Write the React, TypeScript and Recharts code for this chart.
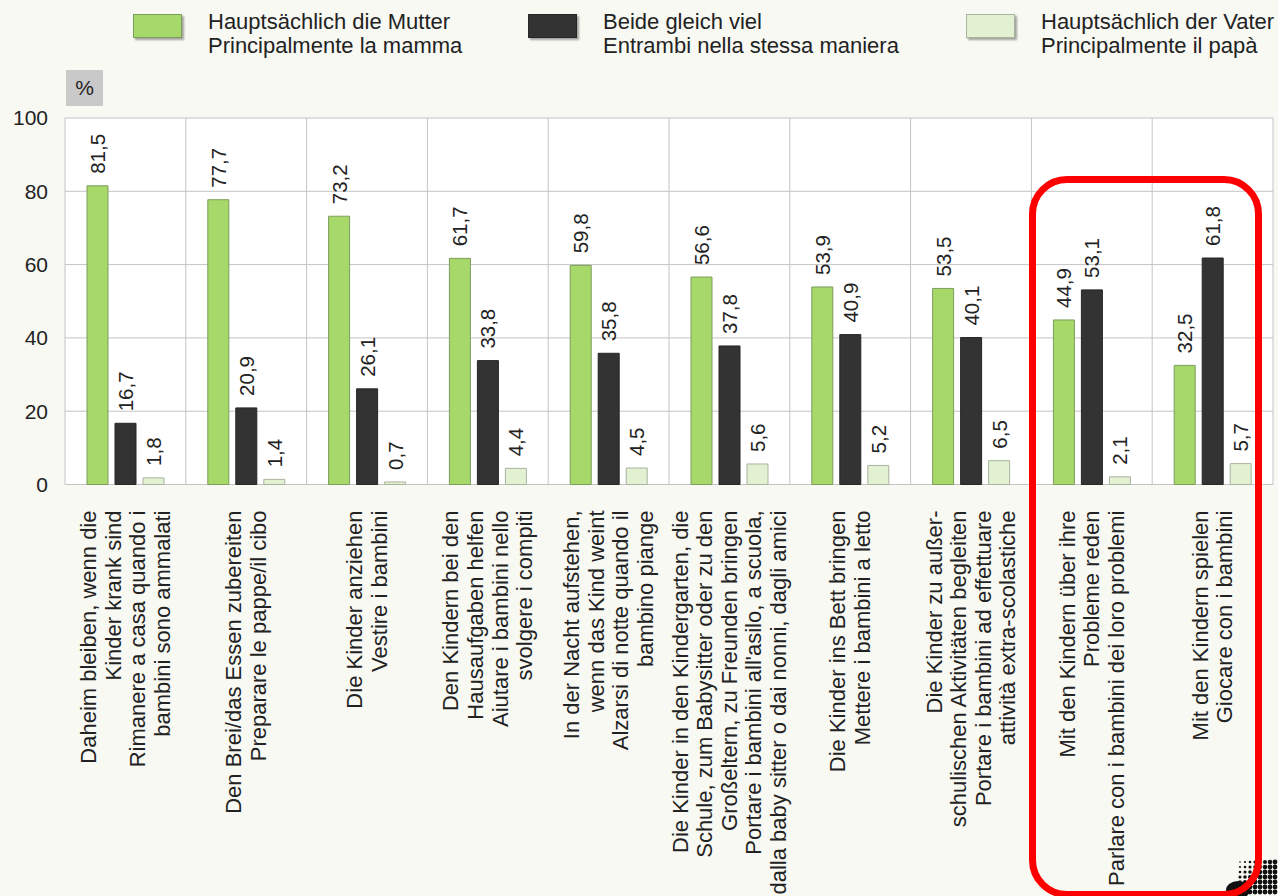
import React from 'react';
import { BarChart, Bar, XAxis, YAxis, CartesianGrid } from 'recharts';

const categoryLines: string[][] = [
  ['Daheim bleiben, wenn die', 'Kinder krank sind', 'Rimanere a casa quando i', 'bambini sono ammalati'],
  ['Den Brei/das Essen zubereiten', 'Preparare le pappe/il cibo'],
  ['Die Kinder anziehen', 'Vestire i bambini'],
  ['Den Kindern bei den', 'Hausaufgaben helfen', 'Aiutare i bambini nello', 'svolgere i compiti'],
  ['In der Nacht aufstehen,', 'wenn das Kind weint', 'Alzarsi di notte quando il', 'bambino piange'],
  [
    'Die Kinder in den Kindergarten, die',
    'Schule, zum Babysitter oder zu den',
    'Großeltern, zu Freunden bringen',
    "Portare i bambini all'asilo, a scuola,",
    'dalla baby sitter o dai nonni, dagli amici',
  ],
  ['Die Kinder ins Bett bringen', 'Mettere i bambini a letto'],
  ['Die Kinder zu außer-', 'schulischen Aktivitäten begleiten', 'Portare i bambini ad effettuare', 'attività extra-scolastiche'],
  ['Mit den Kindern über ihre', 'Probleme reden', 'Parlare con i bambini dei loro problemi'],
  ['Mit den Kindern spielen', 'Giocare con i bambini'],
];

const motherValues = [81.5, 77.7, 73.2, 61.7, 59.8, 56.6, 53.9, 53.5, 44.9, 32.5];
const bothValues = [16.7, 20.9, 26.1, 33.8, 35.8, 37.8, 40.9, 40.1, 53.1, 61.8];
const fatherValues = [1.8, 1.4, 0.7, 4.4, 4.5, 5.6, 5.2, 6.5, 2.1, 5.7];

const yTicks = [0, 20, 40, 60, 80, 100];

const seriesNames = [
  ['Hauptsächlich die Mutter', 'Principalmente la mamma'],
  ['Beide gleich viel', 'Entrambi nella stessa maniera'],
  ['Hauptsächlich der Vater', 'Principalmente il papà'],
];
const seriesKeys = ['mother', 'both', 'father'];
const seriesFill = ['#a6d96a', '#333333', '#e3f1d3'];
const seriesStroke = ['#7e9c5c', '#262626', '#a9b39e'];

const data = categoryLines.map((lines, i) => ({
  key: String(i),
  mother: motherValues[i],
  both: bothValues[i],
  father: fatherValues[i],
}));

const FONT = '"Liberation Sans", Arial, Helvetica, sans-serif';
const TEXT = '#222222';

const fmt = (v: number) => v.toFixed(1).replace('.', ',');

const CategoryTick = (props: any) => {
  const { x, y, payload } = props;
  const lines = categoryLines[Number(payload.value)] || [];
  const lh = 24.6;
  const n = lines.length;
  return (
    <g transform={`translate(${x},${y}) rotate(-90)`}>
      {lines.map((ln, i) => (
        <text
          key={i}
          x={0}
          y={(i - (n - 1) / 2) * lh}
          textAnchor="end"
          dominantBaseline="central"
          fontSize={22}
          fontFamily={FONT}
          fill={TEXT}
        >
          {ln}
        </text>
      ))}
    </g>
  );
};

const ValueLabel = (props: any) => {
  const { x, y, width, value } = props;
  const cx = Number(x) + Number(width) / 2;
  const cy = Number(y) - 12;
  return (
    <text
      transform={`translate(${cx},${cy}) rotate(-90)`}
      x={0}
      y={0}
      textAnchor="start"
      dominantBaseline="central"
      fontSize={20.5}
      fontFamily={FONT}
      fill={TEXT}
    >
      {fmt(Number(value))}
    </text>
  );
};

const legendSwatchX = [133, 528, 966];
const legendTextX = [208, 603, 1041];

const dotCols = [0, 1, 2, 3, 4, 5, 6, 7];
const dotRows = [0, 1, 2, 3, 4, 5, 6];

export default function App() {
  return (
    <div
      style={{
        position: 'absolute',
        left: 0,
        top: 0,
        width: 1278,
        height: 896,
        background: '#f8f9f3',
        overflow: 'hidden',
        fontFamily: FONT,
      }}
    >
      {seriesNames.map((names, i) => (
        <React.Fragment key={i}>
          <div
            style={{
              position: 'absolute',
              left: legendSwatchX[i],
              top: 14,
              width: 47,
              height: 22,
              background: seriesFill[i],
              border: `1px solid ${seriesStroke[i]}`,
              boxShadow: '2px 2px 2px rgba(0,0,0,0.35)',
            }}
          />
          <div
            style={{
              position: 'absolute',
              left: legendTextX[i],
              top: 10,
              fontSize: 22,
              lineHeight: '24px',
              color: TEXT,
              whiteSpace: 'nowrap',
            }}
          >
            {names[0]}
            <br />
            {names[1]}
          </div>
        </React.Fragment>
      ))}
      <div
        style={{
          position: 'absolute',
          left: 66,
          top: 70,
          width: 37,
          height: 36,
          background: '#c9c9c9',
          color: TEXT,
          fontSize: 21,
          lineHeight: '36px',
          textAlign: 'center',
        }}
      >
        %
      </div>
      <div style={{ position: 'absolute', left: 0, top: 0 }}>
        <BarChart
          width={1278}
          height={896}
          data={data}
          margin={{ top: 118, right: 5, bottom: 11.5, left: 5 }}
          barSize={21}
          barGap={7}
        >
          <CartesianGrid
            stroke="#c4c4c4"
            fill="#ffffff"
            verticalCoordinatesGenerator={({ offset }: any) =>
              categoryLines.map((_, i) => offset.left + (i * offset.width) / categoryLines.length).concat([
                offset.left + offset.width,
              ])
            }
          />
          <XAxis
            dataKey="key"
            height={400}
            axisLine={false}
            tickLine={false}
            tickSize={0}
            tickMargin={26}
            interval={0}
            tick={<CategoryTick />}
          />
          <YAxis
            width={60}
            domain={[0, 100]}
            ticks={yTicks}
            axisLine={false}
            tickLine={false}
            tickSize={0}
            tickMargin={17}
            tick={{ fontSize: 21, fontFamily: FONT, fill: TEXT }}
          />
          {seriesKeys.map((k, i) => (
            <Bar
              key={k}
              dataKey={k}
              fill={seriesFill[i]}
              stroke={seriesStroke[i]}
              strokeWidth={1}
              isAnimationActive={false}
              label={<ValueLabel />}
            />
          ))}
        </BarChart>
      </div>
      <svg
        width={60}
        height={40}
        style={{ position: 'absolute', left: 1218, top: 856 }}
      >
        {dotRows.map((r) =>
          dotCols.map((c) => {
            const rad = 0.8 + 0.25 * (r + c);
            return <circle key={`${r}-${c}`} cx={22 + c * 5} cy={6 + r * 5} r={Math.min(rad, 2.4)} fill="#111" />;
          })
        )}
        <ellipse cx={20} cy={34} rx={12} ry={9} fill="#111" />
      </svg>
      <div
        style={{
          position: 'absolute',
          left: 1029,
          top: 176,
          width: 233,
          height: 722,
          border: '7px solid #ff0000',
          borderRadius: 38,
          boxSizing: 'border-box',
        }}
      />
    </div>
  );
}
